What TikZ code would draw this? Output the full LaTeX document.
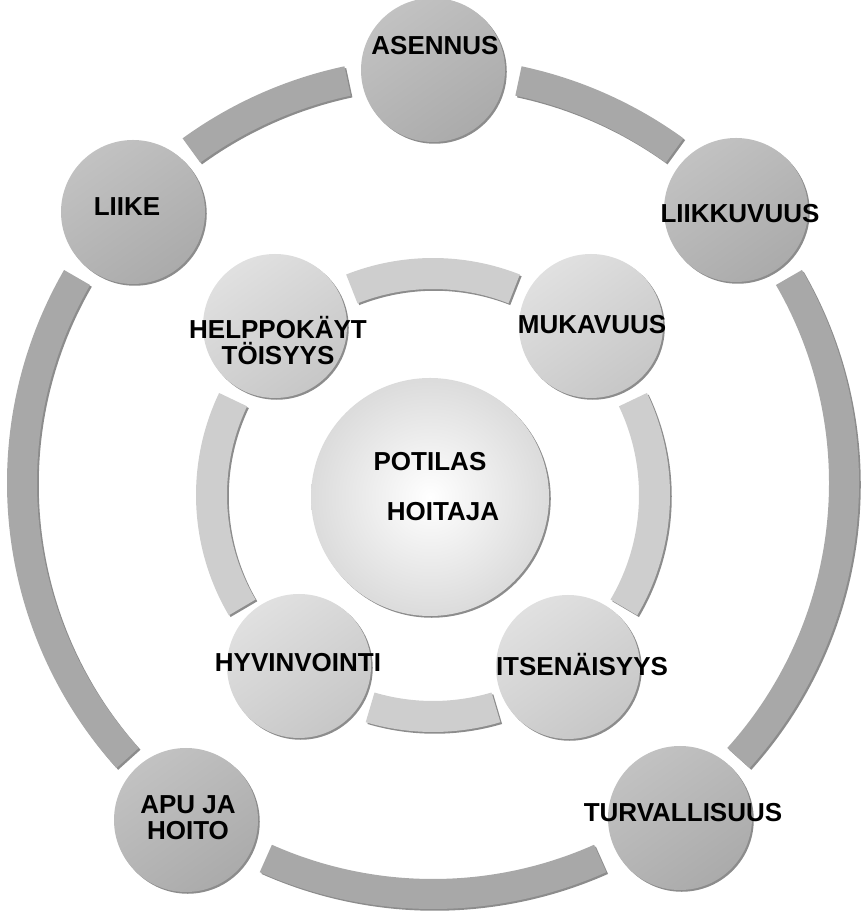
\documentclass[tikz,border=0pt]{standalone}
\usepackage{fontspec}
\setmainfont{Liberation Sans}
\usetikzlibrary{shadows, math}
\definecolor{bandgray}{RGB}{168,168,168}
\definecolor{innerband}{RGB}{206,206,206}

\tikzset{
  shade/.style={drop shadow={shadow xshift=2.5pt, shadow yshift=-2.5pt, fill=black, opacity=0.45}},
  outerband/.style={fill=bandgray, shade},
  innerbandst/.style={fill=innerband, shade},
  outerdisc/.style={circle, minimum size=72mm, inner sep=0pt, shade,
    top color=black!24, bottom color=black!33, shading angle=35},
  innerdisc/.style={circle, minimum size=72mm, inner sep=0pt, shade,
    top color=black!12, bottom color=black!22, shading angle=35},
  hubdisc/.style={circle, minimum size=119mm, inner sep=0pt, shade,
    inner color=white, outer color=black!14},
  lbl/.style={font=\bfseries\fontsize{37}{37}\selectfont, align=center, inner sep=0pt},
}

\begin{document}
\begin{tikzpicture}[x=0.5mm, y=0.5mm]
\tikzmath{
\Ro=426; \Ri=396;
\ro=237; \ri=206;
}
\useasboundingbox (0,0) rectangle (865,920);
\coordinate (oc) at (433,437);
\coordinate (ic) at (433,425);

% outer ring
\foreach \a/\b in {54/78, 102/126, 150/222, 246/294, -42/30}
  \fill[outerband] ([shift={(oc)}]\a:\Ro) arc[start angle=\a, end angle=\b, radius=\Ro]
    -- ([shift={(oc)}]\b:\Ri) arc[start angle=\b, end angle=\a, radius=\Ri] -- cycle;

% inner ring
\foreach \a/\b in {68.5/111.5, -30.5/25.5, 253.5/286.5, 154.5/210.5}
  \fill[innerbandst] ([shift={(ic)}]\a:\ro) arc[start angle=\a, end angle=\b, radius=\ro]
    -- ([shift={(ic)}]\b:\ri) arc[start angle=\b, end angle=\a, radius=\ri] -- cycle;

\node[outerdisc] (asennus) at (433,850) {};
\node[outerdisc] (liikkuvuus) at (736,710) {};
\node[outerdisc] (liike) at (133,708) {};
\node[outerdisc] (turvallisuus) at (680,102) {};
\node[outerdisc] (apu) at (186,100) {};

\node[innerdisc] (helppo) at (275,594) {};
\node[innerdisc] (mukavuus) at (591,594) {};
\node[innerdisc] (hyvinvointi) at (299,254) {};
\node[innerdisc] (itsenaisyys) at (568,253) {};

\node[hubdisc] (hub) at (430,423) {};

\node[lbl] (asennus-t) at (435,874) {ASENNUS};
\node[lbl] (liikkuvuus-t) at (740,706) {LIIKKUVUUS};
\node[lbl] (liike-t) at (127,713) {LIIKE};
\node[lbl] (turvallisuus-t) at (683,107) {TURVALLISUUS};
\node[lbl] (apu-t) at (188,102) {APU JA\\HOITO};
\node[lbl] (helppo-t) at (278,579) {HELPPOKÄYT\\TÖISYYS};
\node[lbl] (mukavuus-t) at (592,595) {MUKAVUUS};
\node[lbl] (hyvinvointi-t) at (298,257) {HYVINVOINTI};
\node[lbl] (itsenaisyys-t) at (582,255) {ITSENÄISYYS};
\node[lbl] (potilas-t) at (430,458) {POTILAS};
\node[lbl] (hoitaja-t) at (443,408) {HOITAJA};
\end{tikzpicture}
\end{document}
